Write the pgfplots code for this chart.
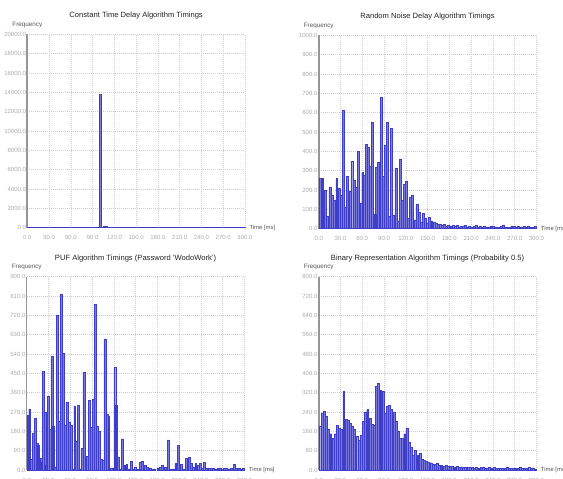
\documentclass[border=0pt]{standalone}
\usepackage{fontspec}
\setmainfont{Liberation Sans}
\usepackage{pgfplots}
\pgfplotsset{compat=1.18}
\definecolor{barfill}{RGB}{122,122,222}
\definecolor{baredge}{RGB}{62,62,200}
\definecolor{gridc}{RGB}{205,205,205}
\definecolor{tickc}{RGB}{172,172,172}
\definecolor{axisc}{RGB}{150,150,150}
\definecolor{titlec}{RGB}{35,35,35}
\definecolor{labc}{RGB}{85,85,85}
\pgfplotsset{
  histo/.style={
    scale only axis, width=217.7pt, height=193.4pt, anchor=south west,
    xmin=0, xmax=300, ymin=0, clip=false,
    axis x line*=bottom, axis y line*=left,
    x axis line style={draw=none},
    y axis line style={axisc, line width=1.6pt},
    xtick={0,30,...,300},
    grid=major,
    major grid style={gridc, dash pattern=on 1pt off 1pt, line width=0.5pt},
    major tick length=0pt,
    scaled y ticks=false, scaled x ticks=false,
    tick label style={font=\fontsize{6}{7}\selectfont, text=tickc},
    /pgf/number format/fixed, /pgf/number format/fixed zerofill,
    /pgf/number format/precision=1, /pgf/number format/1000 sep={},
    /pgf/number format/assume math mode=true,
    xticklabel style={yshift=-4.5pt},
    yticklabel style={xshift=2.2pt},
  },
  bars/.style={ybar, bar width=2.6, bar shift=0pt, draw=baredge, fill=barfill, line width=0.45pt},
}
\newcommand{\decor}[1]{%
  \node[font=\fontsize{7.6}{8}\selectfont, text=titlec] at (rel axis cs:0.5,1) [yshift=18.5pt] {#1};
  \node[font=\fontsize{6.3}{7}\selectfont, text=labc] at (rel axis cs:0,1) [yshift=9.3pt] {Frequency};
  \node[font=\fontsize{5.9}{7}\selectfont, text=labc, anchor=west] at (rel axis cs:1,0) [xshift=1pt] {Time [ms]};
}
\begin{document}
\begin{tikzpicture}[x=1pt,y=1pt]
\useasboundingbox (0,0) rectangle (563,479);
\clip (0,0) rectangle (563,479);
\fill[white] (0,0) rectangle (563,479);

% ---------- Constant time delay ----------
\begin{axis}[histo, at={(27.3pt,251.3pt)}, ymax=20000, ytick={0,2000,...,20000}]
\addplot[bars] coordinates {
(1.5,20)(4.5,15)(7.5,10)(10.5,12)(13.5,10)(16.5,8)(19.5,10)(22.5,8)(25.5,10)(28.5,6)
(31.5,8)(34.5,6)(37.5,8)(40.5,6)(43.5,5)(46.5,6)(49.5,5)(52.5,6)(55.5,5)(58.5,6)
(61.5,5)(64.5,6)(67.5,5)(70.5,6)(73.5,5)(76.5,6)(79.5,5)(82.5,6)(85.5,8)(88.5,10)
(91.5,12)(94.5,20)(97.5,40)(100.5,13800)(103.5,60)(106.5,180)(109.5,150)(112.5,60)(115.5,40)(118.5,30)
(121.5,25)(124.5,20)(127.5,15)(130.5,12)(133.5,10)(136.5,10)(139.5,8)(142.5,8)(145.5,6)(148.5,6)
(151.5,6)(154.5,5)(157.5,5)(160.5,5)(163.5,5)(166.5,5)(169.5,5)(172.5,5)(175.5,5)(178.5,5)
(181.5,5)(184.5,5)(187.5,5)(190.5,5)(193.5,5)(196.5,5)(199.5,5)(202.5,5)(205.5,5)(208.5,5)
(211.5,5)(214.5,5)(217.5,5)(220.5,5)(223.5,5)(226.5,5)(229.5,5)(232.5,5)(235.5,5)(238.5,5)
(241.5,5)(244.5,5)(247.5,5)(250.5,5)(253.5,5)(256.5,5)(259.5,5)(262.5,5)(265.5,5)(268.5,5)
(271.5,5)(274.5,5)(277.5,5)(280.5,5)(283.5,5)(286.5,5)(289.5,5)(292.5,5)(295.5,5)(298.5,5)
};
\decor{Constant Time Delay Algorithm Timings}
\end{axis}

% ---------- Random noise delay ----------
\begin{axis}[histo, at={(318.7pt,250.3pt)}, ymax=1000, ytick={0,100,...,1000}]
\addplot[bars] coordinates {
(1.8,260)(5.5,260)(9.2,200)(12.2,65)(15.4,215)(18.6,175)(21.6,145)(24.8,260)(28,210)(31,175)
(34,610)(37,110)(39.9,270)(43,195)(45.6,350)(48.6,250)(51.8,215)(55,400)(58,130)(60.6,290)
(63.3,275)(66,435)(68.8,420)(71.5,325)(74.3,550)(77.3,75)(79.8,320)(82.6,345)(85.8,680)(89,270)
(91.7,430)(94.5,550)(97.2,65)(100.2,520)(103.2,70)(106.4,315)(109.2,40)(112,360)(114.8,145)(117.6,230)
(120.6,245)(123.6,55)(126.6,165)(129.4,175)(132.6,45)(135.3,125)(138.2,85)(141,35)(143.8,80)(146.8,55)
(150,30)(152.8,60)(155.7,40)(158.7,35)
(161.6,28)(164.5,22)(167.4,25)(170.3,18)(173.2,22)(176.1,15)(179.0,20)(181.9,14)(184.8,18)(187.7,12)
(190.6,16)(193.5,10)(196.4,14)(199.3,12)(202.2,18)(205.1,10)(208.0,14)(210.9,8)(213.8,12)(216.7,16)
(219.6,10)(222.5,12)(225.4,8)(228.3,14)(231.2,10)(234.1,8)(237.0,12)(239.9,15)(242.8,8)(245.7,10)
(248.6,6)(251.5,12)(254.4,20)(257.3,10)(260.2,8)(263.1,6)(266.0,14)(268.9,12)(271.8,8)(274.7,14)
(277.6,10)(280.5,6)(283.4,12)(286.3,8)(289.2,14)(292.1,10)(295.0,6)(297.9,12)
};
\decor{Random Noise Delay Algorithm Timings}
\end{axis}

% ---------- PUF ----------
\begin{axis}[histo, at={(26.7pt,9pt)}, ymax=900, ytick={0,90,...,900}]
\addplot[bars] coordinates {
(1.4,255)(4.1,285)(6.4,50)(8.7,170)(11.5,240)(14.0,125)(16.3,115)(18.3,35)(20.2,55)(22.4,460)
(25.0,270)(27.3,20)(29.8,345)(32.3,190)(34.6,530)(36.9,205)(39.2,15)(41.9,720)(44.7,225)(47.2,820)
(49.9,545)(52.7,210)(55.4,315)(58.2,220)(60.9,210)(63.7,5)(66.2,295)(68.5,135)(71.0,300)(73.5,5)
(76.0,100)(78.8,455)(81.3,30)(83.8,65)(86.6,325)(89.1,200)(91.4,330)(94.1,770)(96.9,205)(99.4,180)
(102.2,50)(104.9,45)(107.7,610)(110.4,260)(113.1,250)(115.9,10)(118.6,10)(121.4,480)(123.9,300)(126.4,60)
(129.0,5)(131.9,145)(135.1,20)(137.9,25)(140.6,5)(143.8,40)(147.0,5)(149.8,15)(152.5,5)(155,5)
(156.9,35)(159.6,40)(163.1,20)(166.5,15)(170.0,10)(173,5)(176,5)(180.5,10)(183.9,15)(187.1,20)
(190.6,15)(194.7,140)(198,5)(201,5)(203.5,5)(205.4,30)(208.9,115)(212.6,25)(216.0,5)(219.9,55)
(223.8,60)(226.8,30)(229.7,15)(232.9,30)(235.9,20)(238.9,30)(242.1,10)(245.1,35)(248.0,10)(251.3,10)
(254.3,8)(257.3,6)(260.3,5)(263.3,8)(266.3,6)(269.3,5)(272.3,8)(275.3,7)(278.3,5)(281.3,6)
(286.3,25)(289.3,8)(292.3,6)(295.3,5)(298.3,8)
};
\decor{PUF Algorithm Timings (Password 'WodoWork')}
\end{axis}

% ---------- Binary representation ----------
\begin{axis}[histo, at={(318.7pt,9pt)}, ymax=800, ytick={0,80,...,800}]
\addplot[bars] coordinates {
(1.5,183)(4.5,235)(7.5,242)(10.5,224)(13.5,170)(16.5,150)(19.5,130)(22.5,150)(25.5,185)(28.5,172)
(31.5,170)(34.5,325)(37.5,210)(40.5,205)(43.5,195)(46.5,182)(49.5,170)(52.5,140)(55.5,125)(58.5,145)
(61.5,200)(64.5,240)(67.5,250)(70.5,215)(73.5,190)(76.5,185)(79.5,345)(82.5,358)(85.5,330)(88.5,325)
(91.5,235)(94.5,262)(97.5,266)(100.5,250)(103.5,240)(106.5,200)(109.5,160)(112.5,130)(115.5,131)(118.5,150)
(121.5,172)(124.5,115)(127.5,95)(130.5,60)(133.5,80)(136.5,60)(139.5,70)(142.5,45)(145.5,40)(148.5,35)
(151.5,32)(154.5,30)(157.5,25)(160.5,22)(163.5,28)(166.5,18)(169.5,20)(172.5,16)(175.5,18)(178.5,15)
(181.5,16)(184.5,14)(187.5,12)(190.5,15)(193.5,12)(196.5,13)(199.5,11)(202.5,12)(205.5,10)(208.5,12)
(211.5,11)(214.5,9)(217.5,10)(220.5,8)(223.5,10)(226.5,11)(229.5,9)(232.5,8)(235.5,10)(238.5,9)
(241.5,11)(244.5,8)(247.5,7)(250.5,9)(253.5,8)(256.5,7)(259.5,10)(262.5,8)(265.5,6)(268.5,9)
(271.5,7)(274.5,8)(277.5,10)(280.5,6)(283.5,8)(286.5,7)(289.5,11)(292.5,9)(295.5,6)(298.5,5)
};
\decor{Binary Representation Algorithm Timings (Probability 0.5)}
\end{axis}
\end{tikzpicture}
\end{document}
